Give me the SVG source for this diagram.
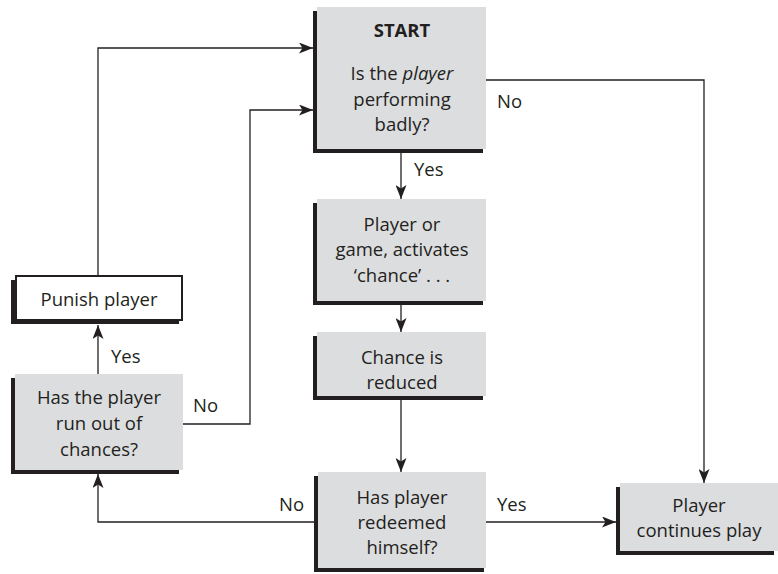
<svg xmlns="http://www.w3.org/2000/svg" width="778" height="574" viewBox="0 0 778 574">
<defs>
<marker id="ah" markerUnits="userSpaceOnUse" markerWidth="15" markerHeight="11" refX="14" refY="5.5" orient="auto">
<path d="M0,0 L14,5.5 L0,11 L3.5,5.5 z" fill="#231f20"/>
</marker>
</defs>
<style>
.sh{fill:#231f20}
.bx{fill:#dcdddf}
.wb{fill:#fff;stroke:#231f20;stroke-width:2}
text{font-family:"Open Sans","Liberation Sans",sans-serif;font-size:18.5px;fill:#231f20;text-anchor:middle}
.lb{text-anchor:start}
.cn{fill:none;stroke:#231f20;stroke-width:1.3}
</style>
<rect width="778" height="574" fill="#fff"/>
<g id="connectors">
<path class="cn" d="M401,153 V199" marker-end="url(#ah)"/>
<path class="cn" d="M401,305 V332" marker-end="url(#ah)"/>
<path class="cn" d="M401,400 V472" marker-end="url(#ah)"/>
<path class="cn" d="M486,522 H616" marker-end="url(#ah)"/>
<path class="cn" d="M314,522 H98 V474" marker-end="url(#ah)"/>
<path class="cn" d="M98,374 V325" marker-end="url(#ah)"/>
<path class="cn" d="M98,276 V48 H313" marker-end="url(#ah)"/>
<path class="cn" d="M183,424 H250 V110 H313" marker-end="url(#ah)"/>
<path class="cn" d="M486,80 H704 V483" marker-end="url(#ah)"/>
<text class="lb" x="414" y="176">Yes</text>
<text class="lb" x="497" y="108">No</text>
<text class="lb" x="111" y="363">Yes</text>
<text class="lb" x="193" y="412">No</text>
<text class="lb" x="279" y="511">No</text>
<text class="lb" x="497" y="511">Yes</text>
</g>
<g id="start">
<rect class="sh" x="313" y="11" width="170" height="142"/>
<rect class="bx" x="317" y="7" width="169" height="142"/>
<text x="402" y="37" font-weight="bold">START</text>
<text x="402" y="80">Is the <tspan font-style="italic">player</tspan></text>
<text x="402" y="106">performing</text>
<text x="402" y="131">badly?</text>
</g>
<g id="activates">
<rect class="sh" x="313" y="203" width="170" height="102"/>
<rect class="bx" x="317" y="199" width="169" height="102"/>
<text x="402" y="231">Player or</text>
<text x="402" y="256">game, activates</text>
<text x="402" y="282">‘chance’ . . .</text>
</g>
<g id="reduced">
<rect class="sh" x="313" y="336" width="170" height="64"/>
<rect class="bx" x="317" y="332" width="169" height="64"/>
<text x="402" y="364">Chance is</text>
<text x="402" y="389">reduced</text>
</g>
<g id="redeemed">
<rect class="sh" x="314" y="476" width="170" height="96"/>
<rect class="bx" x="318" y="472" width="168" height="96"/>
<text x="402" y="504">Has player</text>
<text x="402" y="529">redeemed</text>
<text x="402" y="554">himself?</text>
</g>
<g id="continues">
<rect class="sh" x="616" y="487" width="158" height="68"/>
<rect class="bx" x="620" y="483" width="158" height="68"/>
<text x="699" y="512">Player</text>
<text x="699" y="537">continues play</text>
</g>
<g id="runout">
<rect class="sh" x="11" y="378" width="168" height="96"/>
<rect class="bx" x="15" y="374" width="168" height="96"/>
<text x="99" y="404">Has the player</text>
<text x="99" y="430">run out of</text>
<text x="99" y="456">chances?</text>
</g>
<g id="punish">
<rect class="sh" x="11" y="280" width="168" height="44"/>
<rect class="wb" x="16" y="276" width="166" height="44"/>
<text x="99" y="306">Punish player</text>
</g>
</svg>
